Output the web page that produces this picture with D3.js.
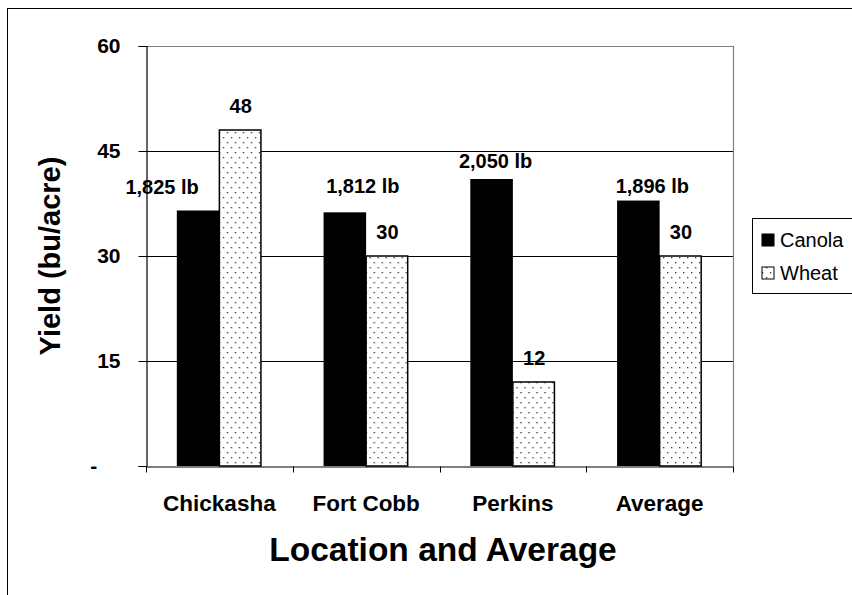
<!DOCTYPE html>
<html>
<head>
<meta charset="utf-8">
<script src="https://cdn.jsdelivr.net/npm/d3@7"></script>
<style>
  html, body { margin: 0; padding: 0; background: #fff; }
  svg { display: block; font-family: "Liberation Sans", Arial, sans-serif; }
</style>
</head>
<body>
<svg id="chart" width="852" height="595"></svg>
<script>
// Yield by location: canola (reported in lb/acre, 50 lb per bushel) and wheat (bu/acre)
const locations = ["Chickasha", "Fort Cobb", "Perkins", "Average"];
const canolaLb = [1825, 1812, 2050, 1896];
const wheatBu = [48, 30, 12, 30];
const seriesNames = ["Canola", "Wheat"];
const yTicks = [0, 15, 30, 45, 60];
const canolaLbPerBu = 50;

// hand-placed canola label offsets (dx from bar centre, gap above bar top)
const canolaLabelNudge = [[-36, 17], [18, 19], [4, 11], [14, 8]];

const svg = d3.select("#chart");
const defs = svg.append("defs");

// dotted fill for wheat bars
const pat = defs.append("pattern")
  .attr("id", "dots").attr("patternUnits", "userSpaceOnUse")
  .attr("width", 8).attr("height", 10);
pat.append("rect").attr("width", 8).attr("height", 10).attr("fill", "#fff");
pat.append("rect").attr("x", 2).attr("y", 2).attr("width", 1.3).attr("height", 1.3).attr("fill", "#333");
pat.append("rect").attr("x", 6).attr("y", 7).attr("width", 1.3).attr("height", 1.3).attr("fill", "#333");

// outer chart frame
svg.append("rect").attr("x", 7.5).attr("y", 8.5).attr("width", 900).attr("height", 700)
  .attr("fill", "none").attr("stroke", "#000").attr("stroke-width", 1);

const plot = { left: 146, right: 733, top: 46, bottom: 466 };

const x0 = d3.scaleBand().domain(locations).range([plot.left, plot.right])
  .paddingInner(0.42).paddingOuter(0.21);
const x1 = d3.scaleBand().domain(seriesNames).range([0, x0.bandwidth()]);
const y = d3.scaleLinear().domain([0, 60]).range([plot.bottom, plot.top]);

const rows = locations.map((loc, i) => ({
  loc,
  canolaLb: canolaLb[i],
  canola: canolaLb[i] / canolaLbPerBu,
  wheat: wheatBu[i],
  nudge: canolaLabelNudge[i]
}));

// gridlines
svg.append("g").selectAll("line").data(yTicks.filter(t => t > 0 && t < 60)).join("line")
  .attr("x1", plot.left).attr("x2", plot.right)
  .attr("y1", d => Math.round(y(d)) + 0.5).attr("y2", d => Math.round(y(d)) + 0.5)
  .attr("stroke", "#000").attr("stroke-width", 1);

// plot area border (top & right)
svg.append("path")
  .attr("d", `M${plot.left},${plot.top + 0.5}H${plot.right + 0.5}V${plot.bottom}`)
  .attr("fill", "none").attr("stroke", "#808080").attr("stroke-width", 1.2);

// bars
const groups = svg.append("g").selectAll("g").data(rows).join("g")
  .attr("transform", d => `translate(${x0(d.loc)},0)`);

groups.append("rect")
  .attr("x", x1("Canola")).attr("width", x1.bandwidth())
  .attr("y", d => y(d.canola)).attr("height", d => y(0) - y(d.canola))
  .attr("fill", "#000");

groups.append("rect")
  .attr("x", x1("Wheat")).attr("width", x1.bandwidth() - 1)
  .attr("y", d => y(d.wheat)).attr("height", d => y(0) - y(d.wheat))
  .attr("fill", "url(#dots)").attr("stroke", "#000").attr("stroke-width", 1.5);

// value labels
groups.append("text")
  .attr("x", d => x1("Canola") + x1.bandwidth() / 2 + d.nudge[0])
  .attr("y", d => y(d.canola) - d.nudge[1])
  .attr("text-anchor", "middle").attr("font-weight", "bold").attr("font-size", 20)
  .text(d => d3.format(",")(d.canolaLb) + " lb");

groups.append("text")
  .attr("x", x1("Wheat") + x1.bandwidth() / 2)
  .attr("y", d => y(d.wheat) - 17)
  .attr("text-anchor", "middle").attr("font-weight", "bold").attr("font-size", 20)
  .text(d => d.wheat);

// y axis
const yAxis = svg.append("g").attr("transform", `translate(${plot.left + 0.5},0)`)
  .call(d3.axisLeft(y).tickValues(yTicks).tickSize(8).tickPadding(18)
    .tickFormat(d => d === 0 ? "-" : d));
yAxis.select(".domain").attr("stroke", "#000").attr("stroke-width", 1.2);
yAxis.selectAll(".tick line").attr("stroke", "#000");
yAxis.selectAll(".tick text")
  .attr("font-family", "Liberation Sans, Arial, sans-serif")
  .attr("font-size", 21).attr("font-weight", "bold").attr("fill", "#000")
  .attr("dx", d => d === 0 ? "-1.11em" : 0);

// x axis
const xAxis = svg.append("g").attr("transform", `translate(0,${plot.bottom + 0.5})`)
  .call(d3.axisBottom(x0).tickSize(0).tickPadding(29));
xAxis.select(".domain").attr("stroke", "#000").attr("stroke-width", 1.2);
xAxis.selectAll(".tick text")
  .attr("font-family", "Liberation Sans, Arial, sans-serif")
  .attr("font-size", 22.5).attr("font-weight", "bold").attr("fill", "#000");
// category separator ticks
const seps = locations.map(l => x0(l) - x0.step() * x0.paddingOuter()).concat([plot.right]);
xAxis.append("g").selectAll("line").data(seps).join("line")
  .attr("x1", d => Math.round(d) + 0.5).attr("x2", d => Math.round(d) + 0.5)
  .attr("y1", 0).attr("y2", 6).attr("stroke", "#000");

// axis titles
svg.append("text")
  .attr("transform", "translate(60,256) rotate(-90)")
  .attr("text-anchor", "middle").attr("font-weight", "bold").attr("font-size", 29)
  .text("Yield (bu/acre)");

svg.append("text")
  .attr("x", 443).attr("y", 561)
  .attr("text-anchor", "middle").attr("font-weight", "bold").attr("font-size", 33.5)
  .text("Location and Average");

// legend
const lg = svg.append("g");
lg.append("rect").attr("x", 752.5).attr("y", 218.5).attr("width", 200).attr("height", 75)
  .attr("fill", "#fff").attr("stroke", "#000").attr("stroke-width", 1);
const legendRows = [
  { name: seriesNames[0], fill: "#000", yb: 247 },
  { name: seriesNames[1], fill: "url(#dots)", yb: 280 }
];
const li = lg.selectAll("g.item").data(legendRows).join("g").attr("class", "item");
li.append("rect")
  .attr("x", 762).attr("y", d => d.yb - 13).attr("width", 12).attr("height", 12)
  .attr("fill", d => d.fill).attr("stroke", "#000").attr("stroke-width", 1);
li.append("text")
  .attr("x", 780).attr("y", d => d.yb)
  .attr("font-size", 20).attr("fill", "#000")
  .text(d => d.name);
</script>
</body>
</html>
